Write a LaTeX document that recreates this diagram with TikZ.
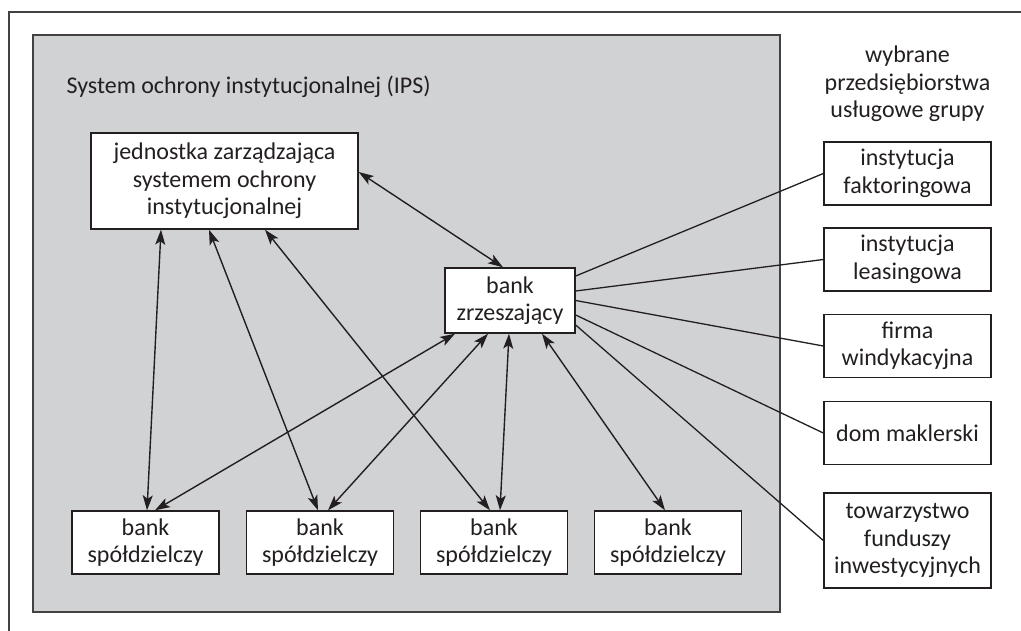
\documentclass[tikz,border=0pt]{standalone}
\usepackage{fontspec}
\setmainfont{Carlito}
\usetikzlibrary{arrows.meta}
\definecolor{ink}{HTML}{231F20}
\definecolor{panel}{HTML}{D1D2D4}
\begin{document}
\begin{tikzpicture}[x=1pt,y=-1pt,
  every node/.style={font=\fontsize{24}{27.5}\selectfont, text=ink},
  box/.style={draw=ink, line width=1.4pt, fill=white, align=center, inner sep=0pt},
  bankbox/.style={box, minimum width=147pt, minimum height=63pt},
  sidebox/.style={box, minimum width=167pt, minimum height=63pt},
  link/.style={draw=ink, line width=1.4pt, {Stealth[length=15pt,width=10pt,inset=3.5pt]}-{Stealth[length=15pt,width=10pt,inset=3.5pt]}},
  tie/.style={draw=ink, line width=1.3pt}]
\useasboundingbox (0,0) rectangle (1021,630);
% outer frame and the IPS panel
\begin{scope}
\clip (0,0) rectangle (1021,630);
\draw[ink!85, line width=1.2pt] (9,12) rectangle (1040,650);
\end{scope}
\fill[panel] (33,35) rectangle (780,612);
\draw[ink!85, line width=1.3pt] (33,35) rectangle (780,612);
\node[anchor=base west] (ips) at (63,93) {System ochrony instytucjonalnej (IPS)};
% IPS members
\node[box, minimum width=267pt, minimum height=96pt] (j) at (224.5,181)
  {jednostka zarządzająca\\systemem ochrony\\instytucjonalnej};
\node[box, minimum width=130pt, minimum height=65pt] (z) at (510,300.5)
  {bank\\zrzeszający};
\node[bankbox] (b1) at (145.5,542.5) {bank\\spółdzielczy};
\node[bankbox] (b2) at (320,542.5) {bank\\spółdzielczy};
\node[bankbox] (b3) at (494,542.5) {bank\\spółdzielczy};
\node[bankbox] (b4) at (668,542.5) {bank\\spółdzielczy};
% service companies of the group
\node[align=center] (grp) at (907.5,84) {wybrane\\przedsiębiorstwa\\usługowe grupy};
\node[sidebox] (f) at (907.5,173.5) {instytucja\\faktoringowa};
\node[sidebox] (l) at (907.5,259.5) {instytucja\\leasingowa};
\node[sidebox] (w) at (907.5,346) {firma\\windykacyjna};
\node[sidebox] (d) at (907.5,433) {dom maklerski};
\node[box, minimum width=167pt, minimum height=95pt] (t) at (907.5,540.5)
  {towarzystwo\\funduszy\\inwestycyjnych};
% two-way links
\draw[link] ([yshift=9pt]j.east) -- ([xshift=-7pt]z.north);
\draw[link] ([xshift=-63.5pt]j.south) -- ([xshift=1.5pt]b1.north);
\draw[link] ([xshift=-15.5pt]j.south) -- ([xshift=-2pt]b2.north);
\draw[link] ([xshift=40.5pt]j.south) -- ([xshift=-4pt]b3.north);
\draw[link] ([xshift=-55pt]z.south) -- ([xshift=9.5pt]b1.north);
\draw[link] ([xshift=-22pt]z.south) -- ([xshift=8pt]b2.north);
\draw[link] ([xshift=-1pt]z.south) -- ([xshift=6pt]b3.north);
\draw[link] ([xshift=32pt]z.south) -- ([xshift=-3pt]b4.north);
% plain ties to the companies
\draw[tie] ([yshift=24.5pt]z.east) -- (f.west);
\draw[tie] ([yshift=9.5pt]z.east) -- (l.west);
\draw[tie] (z.east) -- (w.west);
\draw[tie] ([yshift=-14.5pt]z.east) -- (d.west);
\draw[tie] ([yshift=-24.5pt]z.east) -- (t.west);
\end{tikzpicture}
\end{document}
